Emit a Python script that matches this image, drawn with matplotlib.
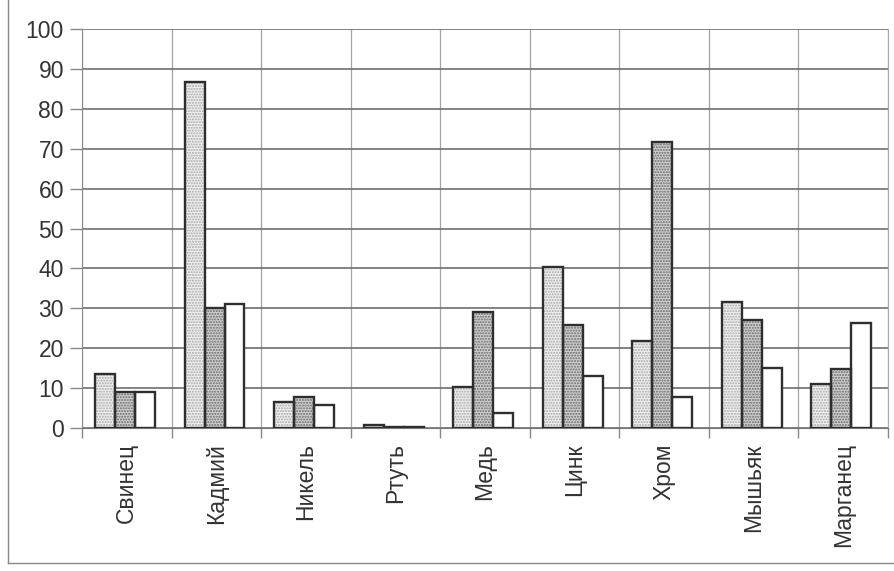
import matplotlib
matplotlib.use('Agg')
import matplotlib.pyplot as plt
import numpy as np
from matplotlib.lines import Line2D

plt.rcParams['font.family'] = ['Liberation Sans', 'DejaVu Sans']

# металлы
metals = ['Свинец', 'Кадмий', 'Никель', 'Ртуть', 'Медь', 'Цинк', 'Хром', 'Мышьяк', 'Марганец']
# три серии (%)
s1 = [13.5, 86.6, 6.5, 0.8, 10.2, 40.3, 21.8, 31.5, 11.0]
s2 = [9.0, 30.0, 7.8, 0.2, 29.0, 25.8, 71.7, 27.1, 14.8]
s3 = [9.0, 31.0, 5.7, 0.2, 3.7, 13.1, 7.8, 15.1, 26.4]

fig = plt.figure(figsize=(8.95, 5.71), dpi=100)
ax = fig.add_axes([0.0916, 0.2504, 0.9006, 0.6988])

x = np.arange(len(metals))
w = 0.223
series = [
    (s1, -w - 0.02, '#efefef', '#a8a8a8', '......'),
    (s2, -0.02, '#cfcfcf', '#6a6a6a', '......'),
    (s3, w - 0.02, 'white', None, None),
]
for vals, off, fc, hc, hatch in series:
    # заливка с точечной штриховкой
    ax.bar(x + off, vals, w, color=fc, edgecolor=hc if hc else fc,
           hatch=hatch, linewidth=0, zorder=2)
    # контур столбца
    ax.bar(x + off, vals, w, fill=False, edgecolor='#2e2e2e',
           linewidth=1.7, zorder=3)

ax.set_xlim(-0.5, len(metals) - 0.5)
ax.set_ylim(0, 100)
ax.set_yticks(range(0, 101, 10))
ax.set_xticks(x)
ax.set_xticklabels(metals, rotation=90, fontsize=16.5, color='#333333')
ax.set_xticks(np.arange(-0.5, len(metals), 1), minor=True)
ax.tick_params(axis='x', which='major', length=0, pad=11)
ax.tick_params(axis='x', which='minor', length=7, color='#888888', width=1)
ax.tick_params(axis='y', length=9, color='#888888', width=1,
               labelsize=16.5, labelcolor='#333333', pad=4)

ax.grid(axis='y', color='#6e6e6e', linewidth=1.2, zorder=0)
ax.grid(axis='x', which='minor', color='#a5a5a5', linewidth=0.9, zorder=0)
ax.set_axisbelow(True)
ax.spines['top'].set_visible(False)
ax.spines['left'].set_color('#888888')
ax.spines['right'].set_color('#aaaaaa')
ax.spines['bottom'].set_color('#777777')

# рамка страницы
fig.add_artist(Line2D([8 / 895, 8 / 895], [1 - 563 / 571, 1.0], color='#888888', lw=1))
fig.add_artist(Line2D([8 / 895, 1.0], [1 - 563 / 571, 1 - 563 / 571], color='#888888', lw=1))

fig.savefig('out.png', dpi=100)
